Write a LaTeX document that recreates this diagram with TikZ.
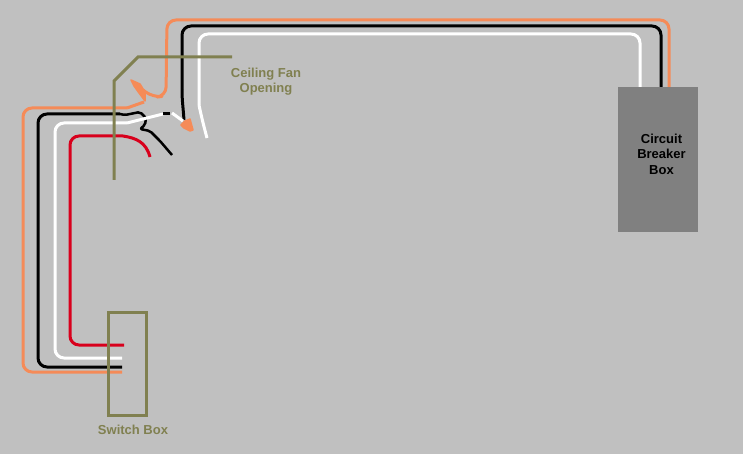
\documentclass[tikz,border=0pt]{standalone}
\usepackage{fontspec}
\setmainfont{Liberation Sans}
\definecolor{wallgray}{HTML}{C0C0C0}
\definecolor{boxgray}{HTML}{808080}
\definecolor{boxolive}{HTML}{808050}
\definecolor{wireorange}{HTML}{F58B58}
\definecolor{wirered}{HTML}{D8001C}
\tikzset{
  wire/.style={line width=3pt, line join=round},
  blob/.style={fill=wireorange, draw=wireorange, line width=1.5pt, line join=round},
  olive line/.style={draw=boxolive, line width=3pt},
  olive text/.style={text=boxolive, font=\bfseries\fontsize{13}{15}\selectfont, align=center, inner sep=0pt},
  black text/.style={text=black, font=\bfseries\fontsize{13}{15.5}\selectfont, align=center, inner sep=0pt}
}
\begin{document}
\begin{tikzpicture}[x=1pt,y=-1pt]
\fill [wallgray] (0,0) rectangle (743,454);
\useasboundingbox (0,0) rectangle (743,454);
% breaker box
\node [fill=boxgray, minimum width=80pt, minimum height=145pt, inner sep=0pt] (breaker) at (658,159.5) {};
\node [black text] (breakerlabel) at (661.5,154) {Circuit\\Breaker\\Box};
% wire ends
\coordinate (orangetop) at (669,87);
\coordinate (blacktop) at (661,87);
\coordinate (whitetop) at (640,87);
\coordinate (orangeend) at (122,372);
\coordinate (blackend) at (122,367);
\coordinate (whiteend) at (122,358);
\coordinate (redend) at (124,345);
% top run
\draw [wire, wireorange, rounded corners=9pt] (orangetop) -- (669,20) -- (167,20) -- (166,96) -- (153,97.5) -- (143,90);
\draw [wire, black, rounded corners=9pt] (blacktop) -- (661,26) -- (182,26) -- (182,90);
\draw [wire, black] (182,90) .. controls (182,100) and (183,106) .. (184,120);
\draw [wire, white, rounded corners=9pt] (whitetop) -- (640,34) -- (199,34) -- (199,105);
\draw [wire, white] (199,105) .. controls (201,115) and (204,127) .. (207,138);
% bottom run
\draw [wire, wireorange, rounded corners=9pt] (orangeend) -- (23,372) -- (23,108) -- (127,108);
\draw [wire, wireorange] (127,108) -- (144,102);
\draw [wire, black, rounded corners=9pt] (blackend) -- (38,367) -- (38,114) -- (120,114);
\draw [wire, black, line width=2.5pt, rounded corners=2pt] (120,114) -- (125,115) -- (135,113) -- (140,112) -- (146,118) -- (145,125) -- (140,129) -- (150,131) -- (160,141) -- (172,155);
\draw [wire, white, rounded corners=9pt] (whiteend) -- (55,358) -- (55,123) -- (127,123);
\draw [wire, white] (127,123) -- (143,119) -- (163,114);
\draw [wire, black] (163,113.5) -- (170,113.5);
\draw [wire, white] (172,113) -- (183,121);
\draw [wire, wirered, rounded corners=9pt] (redend) -- (70,345) -- (70,136) -- (123,136);
\draw [wire, wirered] (123,136) .. controls (136,138) and (146,142) .. (150,157);
% orange blobs
\path [blob] (131,80) -- (140,84) -- (145,92) -- (145,101) -- (139,93) -- (134,86) -- cycle;
\path [blob] (181,125) -- (185,121) -- (190,119) -- (193,130) -- (190,131) -- (184,128) -- cycle;
% ceiling fan opening and switch box
\draw [olive line] (232,57) -- (138,57) -- (114,81) -- (114,180);
\node [draw=boxolive, line width=3pt, minimum width=38pt, minimum height=103pt, inner sep=0pt] (switchbox) at (127.5,363.5) {};
\node [olive text] (fanlabel) at (266,82) {Ceiling Fan\\Opening};
\node [olive text] (switchlabel) at (133,429.5) {Switch Box};
\end{tikzpicture}
\end{document}
